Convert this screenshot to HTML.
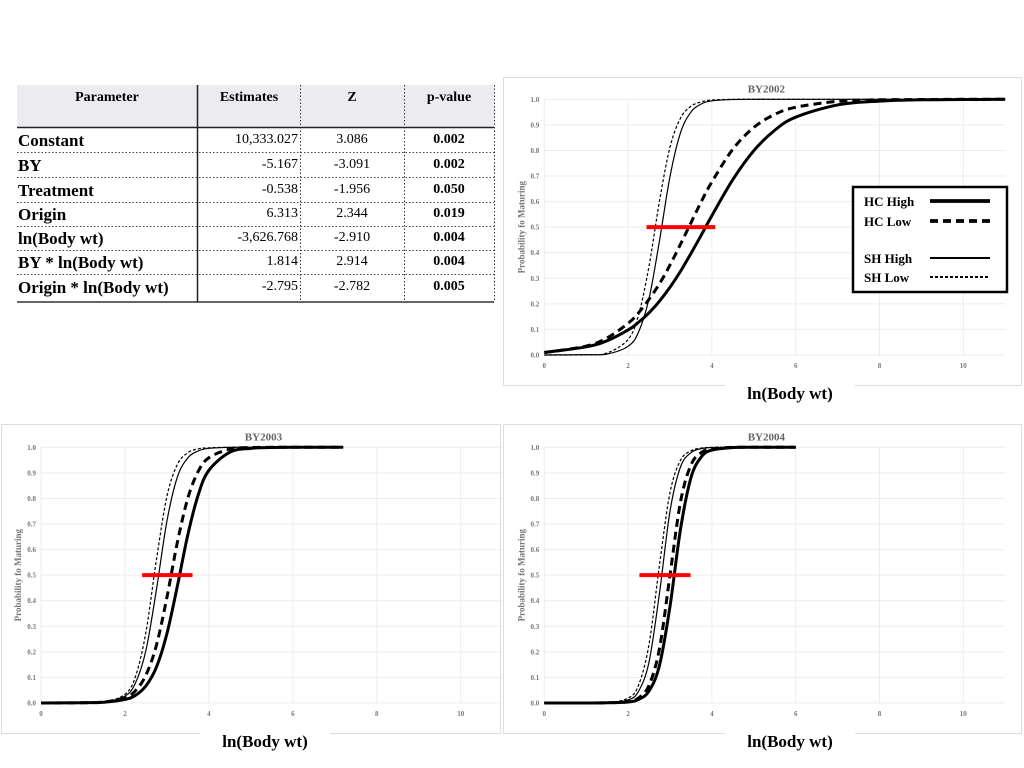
<!DOCTYPE html>
<html><head><meta charset="utf-8">
<style>
body{margin:0;width:1024px;height:768px;background:#fff;overflow:hidden;font-family:"Liberation Serif",serif;}
svg{position:absolute;left:0;top:0;}
</style></head>
<body>
<svg width="1024" height="768" viewBox="0 0 1024 768">
<g id="table">
  <rect x="17" y="85" width="477" height="42" fill="#ececf0"/>
  <text x="107" y="101" text-anchor="middle" font-size="14" font-weight="bold">Parameter</text>
  <text x="249" y="101" text-anchor="middle" font-size="14" font-weight="bold">Estimates</text>
  <text x="352" y="101" text-anchor="middle" font-size="14" font-weight="bold">Z</text>
  <text x="449" y="101" text-anchor="middle" font-size="14" font-weight="bold">p-value</text>
  <line x1="17" y1="127.5" x2="494" y2="127.5" stroke="#222" stroke-width="1.5"/>
  <line x1="17" y1="302" x2="494" y2="302" stroke="#333" stroke-width="1.5"/>
  <line x1="197.5" y1="85" x2="197.5" y2="302" stroke="#222" stroke-width="1.5"/>
  <line x1="300.5" y1="85" x2="300.5" y2="302" stroke="#333" stroke-dasharray="1.5 2"/>
  <line x1="404.5" y1="85" x2="404.5" y2="302" stroke="#333" stroke-dasharray="1.5 2"/>
  <line x1="494.5" y1="85" x2="494.5" y2="302" stroke="#333" stroke-dasharray="1.5 2"/>
  <g id="rows"></g>
</g>
<g id="charts"></g>
</svg>
<script>
const NS="http://www.w3.org/2000/svg";
// ----- table data -----
const paramNames=["Constant","BY","Treatment","Origin","ln(Body wt)","BY * ln(Body wt)","Origin * ln(Body wt)"];
const estimates=["10,333.027","-5.167","-0.538","6.313","-3,626.768","1.814","-2.795"];
const zValues=["3.086","-3.091","-1.956","2.344","-2.910","2.914","-2.782"];
const pValues=["0.002","0.002","0.050","0.019","0.004","0.004","0.005"];

// ----- chart data -----
const seriesNames=["HC High","HC Low","SH High","SH Low"];
const chartTitles=["BY2002","BY2003","BY2004"];
const yTickLabels=["0.0","0.1","0.2","0.3","0.4","0.5","0.6","0.7","0.8","0.9","1.0"];
const xTickLabels=["0","2","4","6","8","10"];
const xs2002=[0,1,1.5,2,2.25,2.5,2.75,3,3.25,3.5,3.75,4,4.5,5,5.5,6,7,8,9,10,11];
const hcHigh2002=[0.010,0.032,0.056,0.098,0.128,0.165,0.211,0.265,0.327,0.397,0.470,0.545,0.686,0.799,0.879,0.930,0.978,0.993,0.998,0.999,1];
const hcLow2002=[0.009,0.035,0.067,0.124,0.165,0.218,0.279,0.352,0.433,0.517,0.601,0.677,0.805,0.890,0.941,0.969,0.992,0.998,0.999,1,1];
const shHigh2002=[0,0.001,0.004,0.034,0.090,0.221,0.448,0.698,0.869,0.950,0.982,0.994,0.999,1,1,1,1,1,1,1,1];
const shLow2002=[0,0.001,0.008,0.061,0.157,0.348,0.603,0.813,0.926,0.973,0.990,0.997,1,1,1,1,1,1,1,1,1];
const xs2003=[0,1,1.5,2,2.25,2.5,2.75,3,3.25,3.5,3.75,4,4.5,5,5.5,6,7.2];
const hcHigh2003=[0,0.001,0.003,0.014,0.030,0.067,0.140,0.271,0.458,0.659,0.816,0.910,0.981,0.996,0.999,1,1];
const hcLow2003=[0,0.001,0.004,0.021,0.048,0.109,0.226,0.413,0.629,0.802,0.907,0.959,0.993,0.999,1,1,1];
const shHigh2003=[0,0,0.003,0.027,0.078,0.206,0.443,0.711,0.884,0.959,0.986,0.996,1,1,1,1,1];
const shLow2003=[0,0,0.003,0.034,0.103,0.277,0.560,0.808,0.933,0.979,0.994,0.998,1,1,1,1,1];
const xs2004=[0,1,1.5,2,2.25,2.5,2.75,3,3.25,3.5,3.75,4,4.5,5,6];
const hcHigh2004=[0,0,0.001,0.004,0.014,0.047,0.148,0.378,0.679,0.881,0.963,0.989,0.999,1,1];
const hcLow2004=[0,0,0.001,0.005,0.020,0.069,0.214,0.500,0.786,0.931,0.980,0.994,1,1,1];
const shHigh2004=[0,0,0.001,0.012,0.046,0.161,0.431,0.750,0.923,0.979,0.995,0.999,1,1,1];
const shLow2004=[0,0,0.001,0.019,0.070,0.230,0.541,0.823,0.949,0.986,0.997,1,1,1,1];
const redBarStart=[2.44,2.41,2.27];
const redBarEnd=[4.08,3.61,3.49];

function mk(tag,attrs,parent){const e=document.createElementNS(NS,tag);for(const k in attrs)e.setAttribute(k,attrs[k]);if(parent)parent.appendChild(e);return e;}

// table rows
const rows=document.getElementById('rows');
const rowY=[140,165,190,214,238,262,287];
paramNames.forEach((n,i)=>{
  const y=rowY[i];
  let t=mk('text',{x:18,y:y+6,'font-size':17,'font-weight':'bold'},rows);t.textContent=n;
  
  
  t=mk('text',{x:298,y:y+3,'font-size':14,'text-anchor':'end'},rows);t.textContent=estimates[i];
  
  
  t=mk('text',{x:352,y:y+3,'font-size':14,'text-anchor':'middle'},rows);t.textContent=zValues[i];
  
  
  t=mk('text',{x:449,y:y+3,'font-size':14,'font-weight':'bold','text-anchor':'middle'},rows);t.textContent=pValues[i];
  
  
  if(i<6){const l=mk('line',{x1:17,x2:494,y1:y+12.5,y2:y+12.5,stroke:'#444','stroke-dasharray':'1.5 2'},rows);
  
  }
});

const styles=[{w:3,d:''},{w:3,d:'8 5'},{w:1.2,d:''},{w:1.2,d:'3 2'}];
const charts=[
 {box:[503,77,518,308],x0:544.3,y0:355,px:41.9,ph:255.7,xs:xs2002,ys:[hcHigh2002,hcLow2002,shHigh2002,shLow2002],legend:true},
 {box:[1,424,499,309],x0:41,y0:703,px:41.97,ph:255.7,xs:xs2003,ys:[hcHigh2003,hcLow2003,shHigh2003,shLow2003]},
 {box:[503,424,518,309],x0:544.3,y0:703,px:41.9,ph:255.7,xs:xs2004,ys:[hcHigh2004,hcLow2004,shHigh2004,shLow2004]}
];
const root=document.getElementById('charts');
charts.forEach((c,ci)=>{
  const g=mk('g',{},root);
  
  
  const X=v=>c.x0+v*c.px, Y=v=>c.y0-v*c.ph;
  const b=mk('rect',{x:c.box[0]+.5,y:c.box[1]+.5,width:c.box[2],height:c.box[3],fill:'#fff',stroke:'#ddd'},g);
  
  
  yTickLabels.forEach((lab,i)=>{
    const v=+lab;
    const l=mk('line',{x1:X(0),x2:X(11),y1:Y(v),y2:Y(v),stroke:'#ececec'},g);
    
    
    const t=mk('text',{x:X(0)-5,y:Y(v)+2.5,'font-size':7,'font-weight':'bold',fill:'#777','text-anchor':'end'},g);t.textContent=lab;
    
    
  });
  xTickLabels.forEach(lab=>{
    const v=+lab;
    const l=mk('line',{x1:X(v),x2:X(v),y1:Y(0),y2:Y(1),stroke:'#ececec'},g);
    
    
    const t=mk('text',{x:X(v),y:c.y0+13,'font-size':7,'font-weight':'bold',fill:'#777','text-anchor':'middle'},g);t.textContent=lab;
    
    
  });
  const tt=mk('text',{x:X(5.3),y:Y(1)-7,'font-size':11,'font-weight':'bold',fill:'#666','text-anchor':'middle'},g);tt.textContent=chartTitles[ci];
  
  
  const yt=mk('text',{x:0,y:0,'font-size':9,'font-weight':'bold',fill:'#777','text-anchor':'middle',transform:`translate(${X(0)-20},${Y(0.5)}) rotate(-90)`},g);yt.textContent='Probability fo Maturing';
  
  
  // series
  c.ys.forEach((arr,si)=>{
    const P=c.xs.map((x,i)=>[X(x),Y(arr[i])]);
    let d='M'+P[0][0]+','+P[0][1];
    for(let i=0;i<P.length-1;i++){
      const p0=P[Math.max(0,i-1)],p1=P[i],p2=P[i+1],p3=P[Math.min(P.length-1,i+2)];
      const c1=[p1[0]+(p2[0]-p0[0])/6,p1[1]+(p2[1]-p0[1])/6];
      const c2=[p2[0]-(p3[0]-p1[0])/6,p2[1]-(p3[1]-p1[1])/6];
      d+=`C${c1[0]},${c1[1]} ${c2[0]},${c2[1]} ${p2[0]},${p2[1]}`;
    }
    const s=styles[si];
    const path=mk('path',{d:d,fill:'none',stroke:'#000','stroke-width':s.w,'stroke-dasharray':s.d},g);
    
    
  });
  const rb=mk('line',{x1:X(redBarStart[ci]),x2:X(redBarEnd[ci]),y1:Y(0.5),y2:Y(0.5),stroke:'#f00','stroke-width':4},g);
  
  
  const lx=c.box[0]===1?265:790;
  const wb=mk('rect',{x:lx-65,y:c.box[1]+c.box[3]-2,width:130,height:24,fill:'#fff'},g);
  
  
  const xl=mk('text',{x:lx,y:c.box[1]+c.box[3]+14,'font-size':17,'font-weight':'bold','text-anchor':'middle'},g);xl.textContent='ln(Body wt)';
  
  
  if(c.legend){
    const lg=mk('g',{},g);
    
    
    mk('rect',{x:853,y:187,width:154,height:105,fill:'#fff',stroke:'#000','stroke-width':2.5},lg);
    const ly=[201,221,258,277];
    seriesNames.forEach((n,i)=>{
      const t=mk('text',{x:864,y:ly[i]+5,'font-size':13,'font-weight':'bold'},lg);t.textContent=n;
      
      
      const s=styles[i];
      const l=mk('line',{x1:930,x2:990,y1:ly[i],y2:ly[i],stroke:'#000','stroke-width':s.w+0.8,'stroke-dasharray':s.d},lg);
      
      
    });
  }
});
</script>
</body></html>
